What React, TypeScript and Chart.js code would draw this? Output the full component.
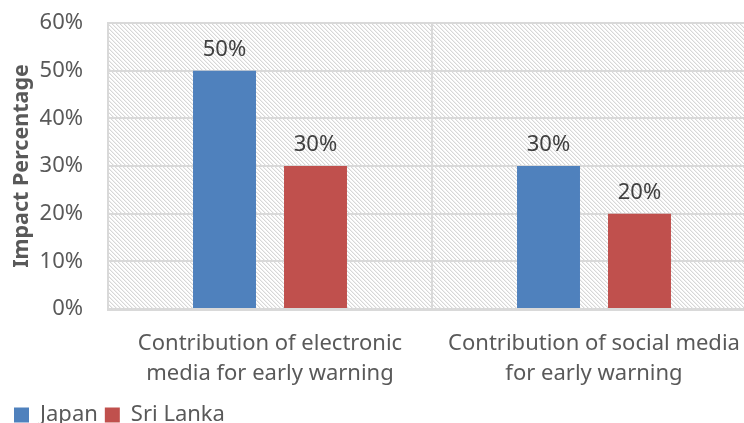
import React, { useEffect, useRef } from "react";
import { Chart, registerables } from "chart.js";

Chart.register(...registerables);

const categories: string[][] = [
  ["Contribution of electronic", "media for early warning"],
  ["Contribution of social media", "for early warning"],
];
const seriesNames = ["Japan", "Sri Lanka"];
const japanValues = [50, 30];
const sriLankaValues = [30, 20];
const seriesColors = ["#4F81BD", "#C0504D"];
const yMax = 60;
const yStep = 10;
const yTitle = "Impact Percentage";

const FONT = '"Noto Sans", "Open Sans", sans-serif';

const hatchPlugin = {
  id: "hatch",
  beforeDraw(chart: any) {
    const { ctx, chartArea: a } = chart;
    const tile = document.createElement("canvas");
    tile.width = 4;
    tile.height = 4;
    const t = tile.getContext("2d")!;
    const img = t.createImageData(4, 4);
    for (let y = 0; y < 4; y++) {
      for (let x = 0; x < 4; x++) {
        const d = (x - y + 8) % 4;
        const v = d === 0 ? 215 : d === 1 ? 240 : 255;
        const i = (y * 4 + x) * 4;
        img.data[i] = v;
        img.data[i + 1] = v;
        img.data[i + 2] = v;
        img.data[i + 3] = 255;
      }
    }
    t.putImageData(img, 0, 0);
    const pattern = ctx.createPattern(tile, "repeat");
    ctx.save();
    ctx.fillStyle = pattern;
    ctx.fillRect(a.left, a.top, a.right - a.left, a.bottom - a.top);
    ctx.restore();
  },
};

const labelPlugin = {
  id: "valueLabels",
  afterDatasetsDraw(chart: any) {
    const { ctx } = chart;
    ctx.save();
    ctx.font = `22px ${FONT}`;
    ctx.fillStyle = "#404040";
    ctx.textAlign = "center";
    ctx.textBaseline = "alphabetic";
    chart.data.datasets.forEach((ds: any, i: number) => {
      const meta = chart.getDatasetMeta(i);
      meta.data.forEach((bar: any, j: number) => {
        ctx.fillText(ds.data[j] + "%", bar.x, bar.y - 15);
      });
    });
    ctx.restore();
  },
};

export default function App() {
  const ref = useRef<HTMLCanvasElement>(null);
  useEffect(() => {
    if (!ref.current) return;
    const chart = new Chart(ref.current, {
      type: "bar",
      data: {
        labels: categories,
        datasets: [
          {
            label: seriesNames[0],
            data: japanValues,
            backgroundColor: seriesColors[0],
            categoryPercentage: 0.5617,
            barPercentage: 0.692,
          },
          {
            label: seriesNames[1],
            data: sriLankaValues,
            backgroundColor: seriesColors[1],
            categoryPercentage: 0.5617,
            barPercentage: 0.692,
          },
        ],
      },
      options: {
        animation: false,
        responsive: false,
        devicePixelRatio: 1,
        layout: { padding: { left: 7, top: 23, right: 4, bottom: 0 } },
        plugins: {
          tooltip: { enabled: false },
          legend: {
            position: "bottom",
            align: "start",
            labels: {
              boxWidth: 15,
              boxHeight: 15,
              padding: 7,
              color: "#595959",
              font: { size: 22, family: FONT },
            },
          },
        },
        scales: {
          x: {
            grid: {
              display: true,
              offset: true,
              color: "#d9d9d9",
              lineWidth: 2,
              drawTicks: false,
            },
            border: { display: true, color: "#d9d9d9", width: 3 },
            ticks: {
              color: "#595959",
              padding: 20,
              maxRotation: 0,
              font: { size: 22, family: FONT, lineHeight: 30 / 22 },
            },
            afterFit(scale: any) {
              scale.height = 88;
              scale.paddingLeft = 0;
              scale.paddingRight = 0;
            },
          },
          y: {
            min: 0,
            max: yMax,
            grid: { color: "#d9d9d9", lineWidth: 2, drawTicks: false },
            border: { display: true, color: "#d9d9d9", width: 2 },
            ticks: {
              stepSize: yStep,
              color: "#595959",
              padding: 25,
              font: { size: 22, family: FONT },
              callback: (v: any) => v + "%",
            },
            title: {
              display: true,
              text: yTitle,
              color: "#595959",
              padding: { top: 2, bottom: 0 },
              font: { size: 21.5, weight: "bold", family: FONT },
            },
            afterFit(scale: any) {
              scale.width = 101;
              scale.paddingTop = 0;
              scale.paddingBottom = 0;
            },
          },
        },
      },
      plugins: [hatchPlugin, labelPlugin],
    } as any);
    return () => chart.destroy();
  }, []);
  return (
    <div
      style={{
        position: "fixed",
        left: 0,
        top: 0,
        width: 744,
        height: 423,
        overflow: "hidden",
        background: "#fff",
      }}
    >
      <canvas ref={ref} width={760} height={436} style={{ display: "block" }} />
    </div>
  );
}
